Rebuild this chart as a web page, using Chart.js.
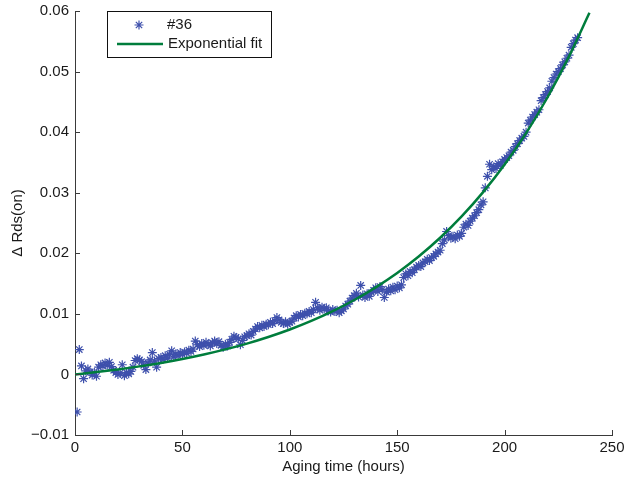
<!DOCTYPE html>
<html><head><meta charset="utf-8">
<script src="https://cdn.jsdelivr.net/npm/chart.js@4/dist/chart.umd.min.js"></script>
<style>html,body{margin:0;padding:0;background:#fff}canvas{display:block}</style>
</head><body>
<canvas id="c" width="625" height="480"></canvas>
<script>
// ---- data ----
const hours = [1,2,3,4,5,6,7,8,9,10,11,12,13,14,15,16,17,18,19,20,21,22,23,24,25,26,27,28,29,30,31,32,33,34,35,36,37,38,39,40,41,42,43,44,45,46,47,48,49,50,51,52,53,54,55,56,57,58,59,60,61,62,63,64,65,66,67,68,69,70,71,72,73,74,75,76,77,78,79,80,81,82,83,84,85,86,87,88,89,90,91,92,93,94,95,96,97,98,99,100,101,102,103,104,105,106,107,108,109,110,111,112,113,114,115,116,117,118,119,120,121,122,123,124,125,126,127,128,129,130,131,132,133,134,135,136,137,138,139,140,141,142,143,144,145,146,147,148,149,150,151,152,153,154,155,156,157,158,159,160,161,162,163,164,165,166,167,168,169,170,171,172,173,174,175,176,177,178,179,180,181,182,183,184,185,186,187,188,189,190,191,192,193,194,195,196,197,198,199,200,201,202,203,204,205,206,207,208,209,210,211,212,213,214,215,216,217,218,219,220,221,222,223,224,225,226,227,228,229,230,231,232,233,234];
const deltaRds = [
-0.0062,0.0041,0.0014,-0.0007,0.0006,0.0009,0.0004,-0.0001,0.0003,-0.0003,
0.0012,0.0016,0.0014,0.0019,0.0015,0.0020,0.0013,0.0007,0.0003,0.0000,
0.0002,0.0016,-0.0002,0.0003,0.0001,0.0005,0.0012,0.0023,0.0026,0.0024,
0.0021,0.0015,0.0008,0.0019,0.0024,0.0036,0.0022,0.0012,0.0026,0.0028,
0.0025,0.0031,0.0027,0.0033,0.0039,0.0029,0.0034,0.0031,0.0036,0.0033,
0.0037,0.0035,0.0040,0.0038,0.0042,0.0055,0.0049,0.0046,0.0051,0.0048,
0.0053,0.0050,0.0047,0.0052,0.0055,0.0051,0.0054,0.0048,0.0045,0.0050,
0.0047,0.0053,0.0058,0.0063,0.0061,0.0059,0.0049,0.0056,0.0062,0.0064,
0.0067,0.0065,0.0071,0.0075,0.0079,0.0077,0.0081,0.0079,0.0083,0.0082,
0.0086,0.0084,0.0089,0.0094,0.0090,0.0086,0.0084,0.0087,0.0083,0.0086,
0.0088,0.0093,0.0097,0.0095,0.0099,0.0097,0.0101,0.0100,0.0104,0.0102,
0.0107,0.0119,0.0110,0.0106,0.0111,0.0108,0.0110,0.0105,0.0103,0.0107,
0.0104,0.0106,0.0102,0.0105,0.0108,0.0113,0.0116,0.0121,0.0126,0.0130,
0.0134,0.0128,0.0147,0.0131,0.0127,0.0133,0.0129,0.0135,0.0139,0.0143,
0.0137,0.0145,0.0140,0.0127,0.0136,0.0141,0.0138,0.0144,0.0140,0.0146,
0.0143,0.0148,0.0160,0.0166,0.0163,0.0170,0.0168,0.0173,0.0177,0.0180,
0.0178,0.0184,0.0186,0.0190,0.0188,0.0193,0.0195,0.0199,0.0202,0.0205,
0.0216,0.0222,0.0236,0.0229,0.0225,0.0228,0.0224,0.0230,0.0228,0.0233,
0.0243,0.0248,0.0246,0.0253,0.0258,0.0262,0.0267,0.0272,0.0280,0.0285,
0.0308,0.0327,0.0347,0.0338,0.0343,0.0340,0.0348,0.0345,0.0351,0.0355,
0.0358,0.0361,0.0367,0.0370,0.0376,0.0381,0.0386,0.0390,0.0393,0.0400,
0.0415,0.0420,0.0425,0.0429,0.0433,0.0437,0.0452,0.0457,0.0462,0.0467,
0.0473,0.0484,0.0490,0.0496,0.0500,0.0505,0.0511,0.0516,0.0522,0.0527,
0.0540,0.0546,0.0552,0.0556];
const fitHours = [0,10,20,30,40,50,60,70,80,90,100,110,120,130,140,150,160,170,180,190,200,210,220,230,239.5];
const fitValues = [0,0.00039,0.00083,0.00133,0.0019,0.00255,0.00329,0.00413,0.00509,0.00618,0.00742,0.00884,0.01045,0.01229,0.01438,0.01676,0.01947,0.02256,0.02608,0.03009,0.03465,0.03985,0.04576,0.0525,0.0597];
const xTicks = [0,50,100,150,200,250];
const yTicks = [-0.01,0,0.01,0.02,0.03,0.04,0.05,0.06];
const seriesNames = ['#36','Exponential fit'];
const xTitle = 'Aging time (hours)';
const yTitle = 'Δ Rds(on)';

// ---- styles ----
const FONT = "'Liberation Sans', Arial, Helvetica, sans-serif";
const starColor = 'rgb(62,80,172)';
const fitColor = 'rgb(0,125,60)';
const axisColor = '#3a3a3a';
const textColor = '#1a1a1a';

function fmtY(v){
  if (Math.abs(v) < 1e-9) return '0';
  return (v < 0 ? '\u2212' : '') + Math.abs(v).toFixed(2);
}

const inwardTicks = {
  id: 'inwardTicks',
  afterDatasetsDraw(chart){
    const {ctx, chartArea: a, scales: {x, y}} = chart;
    ctx.save();
    ctx.strokeStyle = axisColor; ctx.lineWidth = 1;
    ctx.beginPath();
    xTicks.forEach(v => { const px = Math.round(x.getPixelForValue(v)) + 0.5; ctx.moveTo(px, a.bottom); ctx.lineTo(px, a.bottom - 5); });
    yTicks.forEach(v => { const py = Math.round(y.getPixelForValue(v)) + 0.5; ctx.moveTo(a.left, py); ctx.lineTo(a.left + 5, py); });
    ctx.stroke();
    ctx.restore();
  }
};

const boxLegend = {
  id: 'boxLegend',
  afterDraw(chart){
    const {ctx, chartArea: a} = chart;
    const bx = a.left + 32, by = a.top, bw = 164, bh = 46;
    ctx.save();
    ctx.fillStyle = '#fff';
    ctx.fillRect(bx, by, bw, bh);
    ctx.strokeStyle = '#111'; ctx.lineWidth = 1;
    ctx.strokeRect(Math.round(bx) + 0.5, Math.round(by) + 0.5, bw, bh);
    // star sample
    const sx = bx + 32, sy = by + 14;
    ctx.strokeStyle = starColor; ctx.lineWidth = 1.2;
    ctx.beginPath();
    const r = 4.5;
    ctx.moveTo(sx - r, sy); ctx.lineTo(sx + r, sy);
    ctx.moveTo(sx, sy - r); ctx.lineTo(sx, sy + r);
    const d = r * Math.SQRT1_2;
    ctx.moveTo(sx - d, sy - d); ctx.lineTo(sx + d, sy + d);
    ctx.moveTo(sx - d, sy + d); ctx.lineTo(sx + d, sy - d);
    ctx.stroke();
    // line sample
    ctx.strokeStyle = fitColor; ctx.lineWidth = 2.5;
    ctx.beginPath(); ctx.moveTo(bx + 10, by + 33); ctx.lineTo(bx + 56, by + 33); ctx.stroke();
    ctx.fillStyle = textColor;
    ctx.font = '15px ' + FONT;
    ctx.textBaseline = 'middle'; ctx.textAlign = 'left';
    ctx.fillText(seriesNames[0], bx + 60, sy);
    ctx.fillText(seriesNames[1], bx + 61, by + 33);
    ctx.restore();
  }
};

new Chart(document.getElementById('c'), {
  type: 'scatter',
  data: {
    datasets: [
      {
        label: seriesNames[1],
        data: fitHours.map((h, i) => ({x: h, y: fitValues[i]})),
        showLine: true, pointRadius: 0, borderColor: fitColor, borderWidth: 2.5,
        cubicInterpolationMode: 'monotone', fill: false, order: 0
      },
      {
        label: seriesNames[0],
        data: hours.map((h, i) => ({x: h, y: deltaRds[i]})),
        showLine: false, pointStyle: 'star', pointRadius: 4.5, borderWidth: 1.2,
        borderColor: starColor, backgroundColor: starColor, order: 1
      }
    ]
  },
  options: {
    responsive: false, animation: false, devicePixelRatio: 1,
    layout: {padding: {left: 0, right: 13, top: 11, bottom: 0}},
    plugins: {legend: {display: false}, tooltip: {enabled: false}},
    scales: {
      x: {
        type: 'linear', min: 0, max: 250,
        afterBuildTicks: s => { s.ticks = xTicks.map(v => ({value: v})); },
        afterFit: s => { s.height = 45; s.paddingLeft = 0; s.paddingRight = 0; },
        grid: {display: false, drawTicks: false},
        border: {display: true, color: axisColor, width: 1},
        ticks: {color: textColor, font: {family: FONT, size: 15}, padding: 4, maxRotation: 0, callback: v => String(v)},
        title: {display: true, text: xTitle, color: textColor, font: {family: FONT, size: 15}, padding: {top: 0, bottom: 4}}
      },
      y: {
        type: 'linear', min: -0.01, max: 0.06,
        afterBuildTicks: s => { s.ticks = yTicks.map(v => ({value: v})); },
        afterFit: s => { s.width = 75; s.paddingTop = 0; s.paddingBottom = 0; },
        grid: {display: false, drawTicks: false},
        border: {display: true, color: axisColor, width: 1},
        ticks: {color: textColor, font: {family: FONT, size: 15}, padding: 6, callback: v => fmtY(v)},
        title: {display: true, text: yTitle, color: textColor, font: {family: FONT, size: 15}, padding: {top: 9, bottom: 0}}
      }
    }
  },
  plugins: [inwardTicks, boxLegend]
});
</script>
</body></html>
